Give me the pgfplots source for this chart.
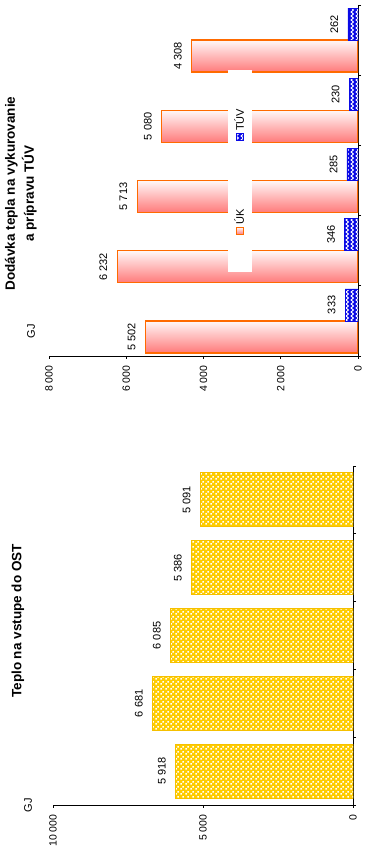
\documentclass[border=0pt]{standalone}
\usepackage{fontspec}
\setmainfont{Liberation Sans}
\usepackage{graphicx}
\usepackage{pgfplots}
\pgfplotsset{compat=1.18}
\usetikzlibrary{patterns}
\definecolor{ukline}{HTML}{FF6A00}
\definecolor{ukdark}{HTML}{FF7A7A}
\definecolor{uklight}{HTML}{FFF8F8}
\definecolor{tuvblue}{HTML}{0A0AE6}
\definecolor{ostyellow}{HTML}{FFCC00}
\definecolor{ostline}{HTML}{F5C000}
\pgfdeclarepatternformonly{chevron}{\pgfqpoint{-1pt}{-1pt}}{\pgfqpoint{6pt}{5pt}}{\pgfqpoint{5pt}{4pt}}{%
  \pgfsetlinewidth{0.9pt}%
  \pgfpathmoveto{\pgfqpoint{3.5pt}{0pt}}%
  \pgfpathlineto{\pgfqpoint{1pt}{2pt}}%
  \pgfpathlineto{\pgfqpoint{3.5pt}{4pt}}%
  \pgfusepath{stroke}}
\pgfdeclarepatternformonly{checker}{\pgfqpoint{0pt}{0pt}}{\pgfqpoint{5pt}{5pt}}{\pgfqpoint{5pt}{5pt}}{%
  \pgfpathrectangle{\pgfqpoint{0.3pt}{0.3pt}}{\pgfqpoint{1.9pt}{1.9pt}}%
  \pgfpathrectangle{\pgfqpoint{2.8pt}{2.8pt}}{\pgfqpoint{1.9pt}{1.9pt}}%
  \pgfusepath{fill}}
\pgfplotsset{
  sqlegend/.style={legend image code/.code={\draw[##1] (0pt,-3.5pt) rectangle (7pt,3.5pt);}},
  ukbar/.style={draw=ukline, line width=1.3pt, left color=ukdark, right color=uklight, bar shift=-16pt, sqlegend},
  mybase/.style={
    scale only axis,
    axis x line*=bottom, axis y line*=left,
    xmin=-0.5, xmax=4.5,
    xtick={-0.5,0.5,1.5,2.5,3.5,4.5}, xticklabels={,,,,,,},
    ymin=0,
    tick align=outside, major tick length=3pt,
    tick style={black, line width=0.6pt},
    axis line style={black, line width=0.7pt},
    scaled y ticks=false,
    /pgf/number format/assume math mode=true,
    /pgf/number format/1000 sep={\ },
    ticklabel style={font=\fontsize{10.5}{12}\selectfont},
    yticklabel style={xshift=-3pt},
    nodes near coords,
    every node near coord/.append style={font=\fontsize{11}{13}\selectfont, yshift=6pt, text=black},
  }
}
\begin{document}
\rotatebox{90}{%
\begin{tikzpicture}[x=1pt,y=1pt]
\useasboundingbox (0,0) rectangle (850,365);
% left chart
\begin{axis}[mybase,
  at={(45pt,12pt)}, anchor=south west,
  width=339pt, height=300pt,
  ymax=10000, ytick={0,5000,10000},
  ybar, bar width=54pt]
\addplot[draw=ostline, line width=0.8pt, fill=ostyellow,
  postaction={pattern=checker, pattern color=white}]
  coordinates {(0,5918) (1,6681) (2,6085) (3,5386) (4,5091)};
\end{axis}
% right chart
\begin{axis}[mybase,
  at={(494pt,7pt)}, anchor=south west,
  width=351pt, height=309pt,
  ymax=8000, ytick={0,2000,4000,6000,8000},
  ybar, bar width=32pt,
  legend columns=2,
  legend style={at={(0.527,0.382)}, anchor=center, draw=none, fill=none,
    font=\fontsize{11}{13}\selectfont,
    /tikz/every even column/.append style={column sep=67pt}}]
\addplot[ukbar] coordinates {(0,5502)};
\addlegendentry{ÚK}
\addplot[ukbar, forget plot] coordinates {(1,6232)};
\addplot[ukbar, forget plot] coordinates {(2,5713)};
\addplot[ukbar, forget plot] coordinates {(3,5080)};
\addplot[ukbar, forget plot] coordinates {(4,4308)};
\addplot[draw=tuvblue, fill=tuvblue, line width=0.6pt, bar shift=16pt,
  postaction={pattern=chevron, pattern color=white}, sqlegend]
  coordinates {(0,333) (1,346) (2,285) (3,230) (4,262)};
\addlegendentry{TÚV}
\fill[white] (axis cs:0.697,2744) rectangle (axis cs:3.574,3366);
\end{axis}
% titles and units
\node[font=\bfseries\fontsize{13.5}{16}\selectfont, anchor=base] at (229,343.5) {Teplo na vstupe do OST};
\node[font=\bfseries\fontsize{13.5}{16}\selectfont, anchor=base] at (656.5,350) {Dodávka tepla na vykurovanie};
\node[font=\bfseries\fontsize{13.5}{16}\selectfont, anchor=base] at (656.5,331) {a prípravu TÚV};
\node[font=\fontsize{11}{13}\selectfont, anchor=base] at (45,333) {GJ};
\node[font=\fontsize{11}{13}\selectfont, anchor=base] at (518.5,330) {GJ};
\end{tikzpicture}}
\end{document}
